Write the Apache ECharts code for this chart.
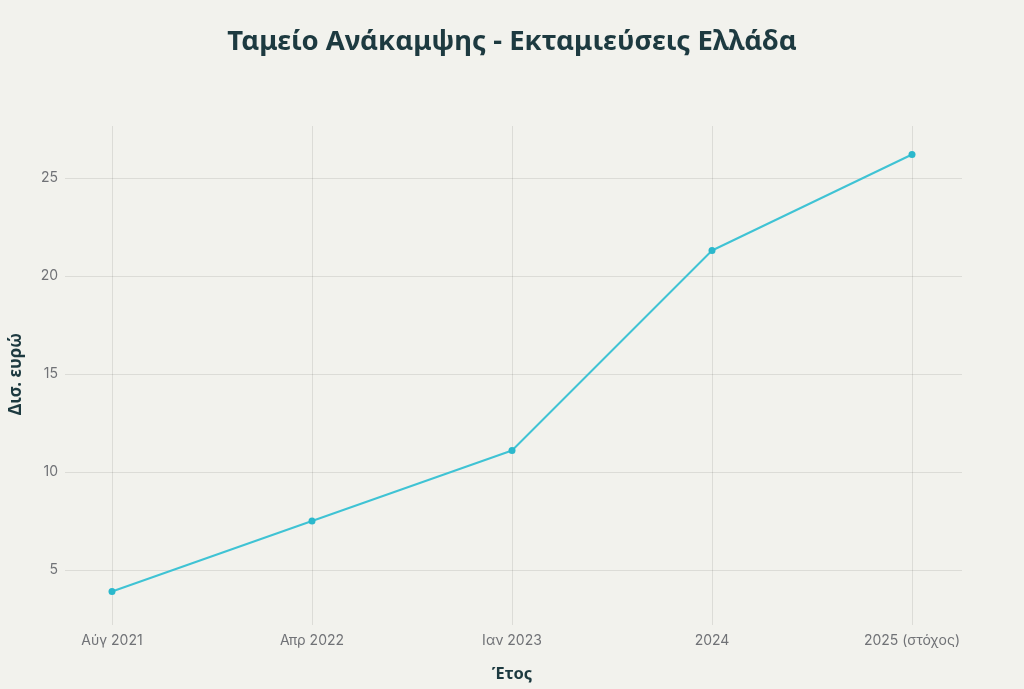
<!DOCTYPE html>
<html>
<head>
<meta charset="utf-8">
<script src="https://cdn.jsdelivr.net/npm/echarts@6/dist/echarts.min.js"></script>
<style>
html,body{margin:0;padding:0;background:#f2f2ed;}
#chart{width:1024px;height:689px;}
</style>
</head>
<body>
<div id="chart"></div>
<script>
const categories = ['Αύγ 2021', 'Απρ 2022', 'Ιαν 2023', '2024', '2025 (στόχος)'];
const disbursements = [3.9, 7.5, 11.1, 21.3, 26.2];
const yTicks = [0, 5, 10, 15, 20, 25, 30];

const chart = echarts.init(document.getElementById('chart'));
const gridColor = 'rgba(0,0,0,0.09)';
const labelFont = 'Inter, "Noto Sans", sans-serif';
const titleColor = '#1d3a40';

chart.setOption({
  backgroundColor: '#f2f2ed',
  animation: false,
  title: {
    text: 'Ταμείο Ανάκαμψης - Εκταμιεύσεις Ελλάδα',
    left: 'center',
    top: 23,
    textStyle: { fontFamily: '"Noto Sans", "DejaVu Sans", sans-serif', fontWeight: 'bold', fontSize: 27.5, color: titleColor }
  },
  grid: [
    { left: 112, right: 112, top: 80, bottom: 21 },
    { left: 62, right: 62, top: 80, bottom: 21 },
    { left: 112, right: 112, top: 126, bottom: 64 }
  ],
  xAxis: [
    { gridIndex: 0, type: 'category', data: categories, boundaryGap: false, show: false },
    { gridIndex: 1, type: 'category', data: categories, show: false },
    { gridIndex: 2, type: 'category', data: categories, boundaryGap: false,
      axisLine: { show: false }, axisTick: { show: false },
      splitLine: { show: true, lineStyle: { color: gridColor, width: 1 } },
      axisLabel: { margin: 9, fontSize: 14, color: '#707276', fontFamily: labelFont },
      name: 'Έτος', nameLocation: 'middle', nameGap: 41,
      nameTextStyle: { fontSize: 16.5, fontWeight: 'bold', color: titleColor, fontFamily: '"Noto Sans", sans-serif' }
    }
  ],
  yAxis: [
    { gridIndex: 0, type: 'value', min: yTicks[0], max: yTicks[yTicks.length - 1], interval: 5, show: false },
    { gridIndex: 1, type: 'value', min: yTicks[0], max: yTicks[yTicks.length - 1], interval: 5,
      axisLine: { show: false }, axisTick: { show: false },
      splitLine: { show: true, lineStyle: { color: ['transparent', gridColor, gridColor, gridColor, gridColor, gridColor, 'transparent'], width: 1 } },
      axisLabel: { showMinLabel: false, showMaxLabel: false, margin: 7, fontSize: 14, color: '#707276', fontFamily: labelFont },
      name: 'Δισ. ευρώ', nameLocation: 'middle', nameGap: 40, nameRotate: 90,
      nameTextStyle: { fontSize: 17, fontWeight: 'bold', color: titleColor, fontFamily: '"Noto Sans", sans-serif' }
    },
    { gridIndex: 2, type: 'value', show: false, splitLine: { show: false } }
  ],
  series: [{
    type: 'line',
    xAxisIndex: 0,
    yAxisIndex: 0,
    data: disbursements,
    symbol: 'circle',
    symbolSize: 7,
    showSymbol: true,
    lineStyle: { color: '#3fc3d4', width: 2 },
    itemStyle: { color: '#2bb8cc' }
  }]
});
</script>
</body>
</html>
